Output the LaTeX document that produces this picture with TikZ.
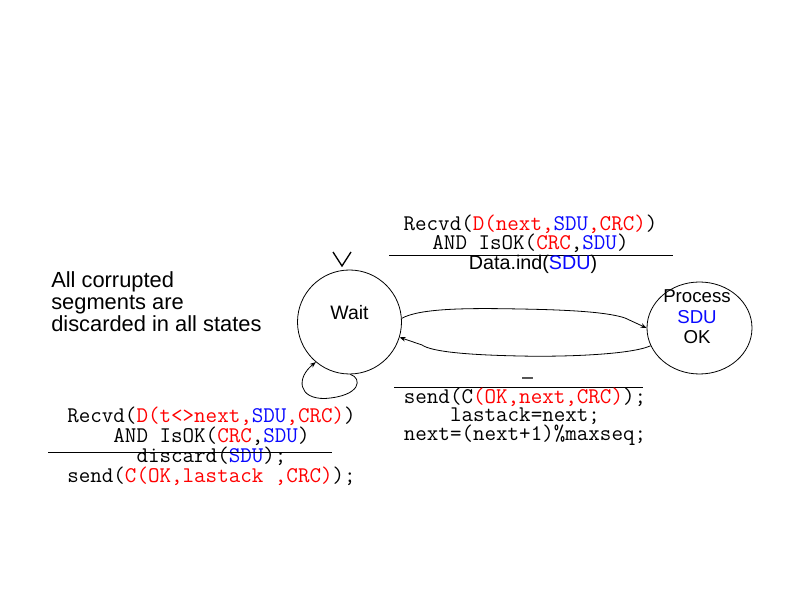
\documentclass[tikz,border=0pt]{standalone}
\usepackage{fontspec}
\setmainfont{Liberation Sans}
\usetikzlibrary{arrows.meta,shapes.geometric}
\definecolor{myred}{RGB}{255,0,0}
\definecolor{myblue}{RGB}{10,10,255}
\newcommand{\cred}[1]{\textcolor{myred}{#1}}
\newcommand{\cblue}[1]{\textcolor{myblue}{#1}}
\begin{document}
\begin{tikzpicture}[x=0.75pt,y=-0.75pt,
  mono/.style={font=\fontsize{16.8}{14}\selectfont\ttfamily, inner sep=0pt, anchor=base, align=center},
  sans/.style={font=\fontsize{14.8}{16}\selectfont, inner sep=0pt, anchor=base},
  notetxt/.style={font=\fontsize{16.4}{16.5}\selectfont, inner sep=0pt, anchor=base west, align=left},
  statetxt/.style={font=\fontsize{14}{15.4}\selectfont, inner sep=0pt, anchor=base, align=center},
  conn/.style={line width=0.6pt, -{Stealth[length=4.5pt,width=3.5pt]}},
  rulel/.style={line width=0.6pt}]
\useasboundingbox (0,0) rectangle (793,595);
\fill[white] (0,0) rectangle (793,595);

% states
\node[draw, circle, minimum size=78pt, inner sep=0pt, line width=0.6pt] (wait) at (349.5,322) {};
\node[draw, ellipse, minimum width=78.75pt, minimum height=69pt, inner sep=0pt, line width=0.6pt] (proc) at (699.5,328) {};
\node[font=\fontsize{14.6}{15}\selectfont, inner sep=0pt, anchor=base] (waitlbl) at (349.5,320) {Wait};
\node[statetxt] (plbl) at (697,344) {Process\\\cblue{SDU}\\OK};

% initial marker
\draw[line width=1pt] (333,252) -- (342,266) -- (351,252);

% transitions
\draw[conn] (wait.4) .. controls (420,308) and (470,308) .. (520,309)
  .. controls (580,310) and (610,313) .. (625,318) -- (proc.180);
\draw[conn] (proc.200) .. controls (630,355) and (560,357) .. (520,356)
  .. controls (470,355) and (432,352) .. (422,345) -- (wait.-17);
\draw[conn] (wait.-89) .. controls (362,378) and (362,396) .. (325,398.5)
  .. controls (298,399) and (296,378) .. (wait.230);

% top label
\node[mono, font=\fontsize{16.8}{14.25}\selectfont\ttfamily] (tcond) at (530.5,250)
  {Recvd(\cred{D(next,}\cblue{SDU}\cred{,CRC)})\\AND IsOK(\cred{CRC},\cblue{SDU})};
\draw[rulel] (389,255.5) -- (673,255.5);
\node[sans] (tact) at (533,269.5) {Data.ind(\cblue{SDU})};

% bottom right label
\node[sans] (rcond) at (527.5,383) {–};
\draw[rulel] (394,387) -- (643,387);
\node[mono] (ract) at (525,440.5)
  {send(C\cred{(OK,next,CRC)});\\lastack=next;\\next=(next+1)\%maxseq;};

% bottom left label
\node[mono, font=\fontsize{16.8}{13.75}\selectfont\ttfamily] (lbl) at (211.5,482)
  {Recvd(\cred{D(t<>next,}\cblue{SDU}\cred{,CRC)})\\AND IsOK(\cred{CRC},\cblue{SDU})\\discard(\cblue{SDU});\\send(\cred{C(OK,lastack ,CRC)});};
\draw[rulel] (48,452) -- (332,452);

% note
\node[notetxt] (note) at (51,332) {All corrupted\\segments are\\discarded in all states};
\end{tikzpicture}
\end{document}
